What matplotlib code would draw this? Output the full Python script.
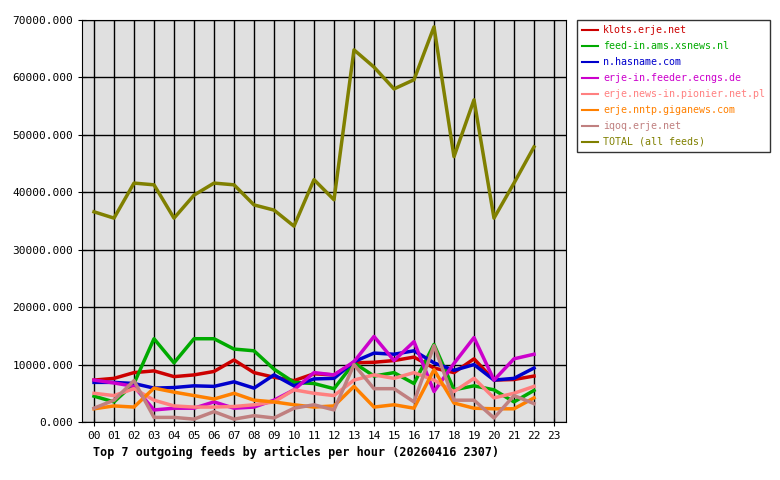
import matplotlib
matplotlib.use("Agg")
import matplotlib.pyplot as plt

hours = [f"{h:02d}" for h in range(24)]
names = ["klots.erje.net", "feed-in.ams.xsnews.nl", "n.hasname.com", "erje-in.feeder.ecngs.de",
         "erje.news-in.pionier.net.pl", "erje.nntp.giganews.com", "iqoq.erje.net", "TOTAL (all feeds)"]
colors = ["#cc0000", "#00aa00", "#0000cc", "#cc00cc", "#ff8080", "#ff8000", "#c08080", "#808000"]
klots = [7300,7600,8600,8900,7900,8200,8800,10800,8600,7800,7200,8400,8200,10300,10400,10700,11300,9400,8600,11000,7300,7400,8000]
xsnews = [4500,3500,6700,14500,10300,14500,14500,12700,12400,9200,6900,6700,5800,10300,8000,8600,6700,13500,5600,6300,5600,3500,5500]
hasname = [6900,6900,6700,5900,6000,6300,6200,7000,5900,8200,6300,7500,7600,10500,12000,11800,12400,10300,9000,10000,7300,7600,9400]
ecngs = [7300,6800,6200,2100,2400,2400,3500,2400,2600,3800,5600,8600,8200,10500,14900,10700,14000,5300,10200,14700,7300,11000,11800]
pionier = [5000,4600,5800,3800,2800,2600,2600,2700,3000,3500,5600,5000,4600,7300,8200,7600,8600,7300,5300,7600,4200,5000,6200]
giganews = [2300,2800,2600,5900,5200,4600,4000,5000,3800,3500,3000,2600,2800,6200,2600,3000,2400,9100,3300,2400,2300,2300,4200]
iqoq = [2400,3800,7200,800,800,500,1800,500,1100,700,2400,3000,2100,10000,5800,5800,3500,13300,3800,3800,700,4600,3200]
total = [36600,35500,41600,41300,35500,39500,41600,41300,37800,36900,34100,42200,38700,64800,61800,58000,59600,68800,46200,56100,35500,41600,47900]
series = [klots, xsnews, hasname, ecngs, pionier, giganews, iqoq, total]

plt.rcParams['font.family'] = ['DejaVu Sans Mono']
fig = plt.figure(figsize=(7.8, 4.8), dpi=100)
ax = fig.add_axes([82/780, 1-422/480, (566-82)/780, (422-20)/480])
ax.set_facecolor("#e0e0e0")
for s, c, n in zip(series, colors, names):
    ax.plot(range(len(s)), s, color=c, lw=2.5, label=n)
ax.set_xlim(-0.6, 23.6)
ax.set_ylim(0, 70000)
ax.set_xticks(range(24))
ax.set_xticklabels(hours, fontsize=8)
ax.set_yticks(range(0, 70001, 10000))
ax.set_yticklabels([f"{v}.000" for v in range(0, 70001, 10000)], fontsize=8)
ax.grid(True, color="black", lw=1)
ax.set_axisbelow(True)
for sp in ax.spines.values():
    sp.set_color("black")
ax.tick_params(direction='inout', length=6, color='black')
fig.text(93/780, 1-452/480, "Top 7 outgoing feeds by articles per hour (20260416 2307)",
         fontsize=8.5, fontweight='bold', va='center')
leg = fig.legend(loc='upper left', bbox_to_anchor=(577/780, 1-20/480), fontsize=7.2,
                 handlelength=1.6, frameon=True, fancybox=False, edgecolor='black',
                 borderpad=0.5, labelspacing=0.6, handletextpad=0.5, borderaxespad=0)
for t, c in zip(leg.get_texts(), colors):
    t.set_color(c)
for h in leg.get_lines():
    h.set_linewidth(1.5)
fig.savefig("out.png", dpi=100)
